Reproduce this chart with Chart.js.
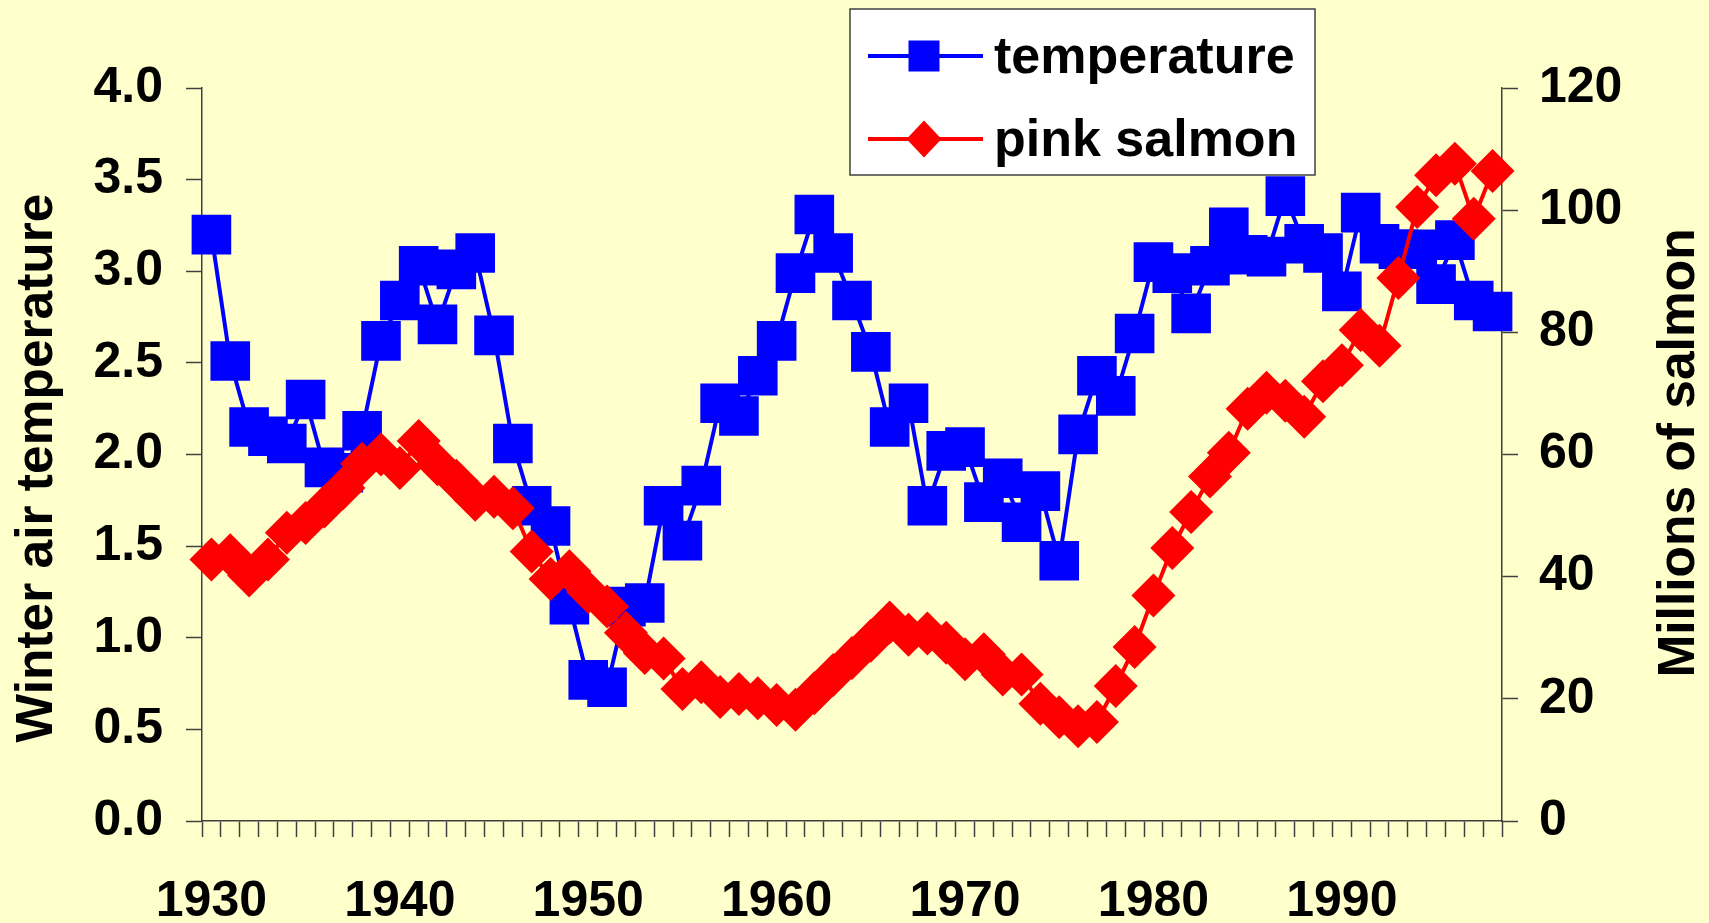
<!DOCTYPE html>
<html>
<head>
<meta charset="utf-8">
<title>Winter air temperature and pink salmon</title>
<script src="https://cdn.jsdelivr.net/npm/chart.js@4.4.1/dist/chart.umd.min.js"></script>
<style>
  html, body { margin: 0; padding: 0; background: #FFFFCC; overflow: hidden; }
  canvas { display: block; }
</style>
</head>
<body>
<canvas id="chart" width="1709" height="923"></canvas>
<script>
// Catch years, one category each
const years = [
  1930, 1931, 1932, 1933, 1934, 1935, 1936, 1937, 1938, 1939,
  1940, 1941, 1942, 1943, 1944, 1945, 1946, 1947, 1948, 1949,
  1950, 1951, 1952, 1953, 1954, 1955, 1956, 1957, 1958, 1959,
  1960, 1961, 1962, 1963, 1964, 1965, 1966, 1967, 1968, 1969,
  1970, 1971, 1972, 1973, 1974, 1975, 1976, 1977, 1978, 1979,
  1980, 1981, 1982, 1983, 1984, 1985, 1986, 1987, 1988, 1989,
  1990, 1991, 1992, 1993, 1994, 1995, 1996, 1997, 1998
];

// Winter air temperature (left axis)
const temperature = [
  3.20, 2.51, 2.15, 2.10, 2.06, 2.30, 1.93, 1.90, 2.13, 2.62,
  2.84, 3.03, 2.71, 3.01, 3.10, 2.65, 2.06, 1.72, 1.61, 1.18,
  0.77, 0.73, 1.17, 1.19, 1.72, 1.53, 1.83, 2.28, 2.21, 2.43,
  2.62, 2.99, 3.31, 3.10, 2.84, 2.56, 2.15, 2.28, 1.72, 2.02,
  2.04, 1.74, 1.87, 1.63, 1.80, 1.42, 2.11, 2.43, 2.32, 2.66,
  3.05, 2.99, 2.77, 3.03, 3.24, 3.09, 3.08, 3.41, 3.15, 3.10,
  2.89, 3.32, 3.15, 3.12, 3.12, 2.93, 3.17, 2.84, 2.78
];

// Pink salmon catch, millions of fish (right axis)
const pinkSalmon = [
  42.8, 43.5, 40.2, 42.8, 47.2, 48.8, 51.5, 54.5, 58.5, 60.0,
  57.8, 62.2, 58.4, 55.7, 52.6, 53.1, 51.2, 44.1, 39.6, 40.9,
  37.5, 35.1, 30.8, 27.5, 26.6, 21.6, 22.7, 20.3, 20.8, 20.1,
  19.0, 18.2, 20.9, 23.9, 26.7, 29.5, 32.5, 30.5, 30.7, 29.2,
  26.5, 27.3, 24.0, 24.0, 19.2, 17.0, 15.5, 16.2, 22.1, 28.5,
  36.9, 44.7, 50.6, 56.4, 60.3, 67.5, 70.1, 68.8, 66.2, 72.0,
  74.6, 80.4, 77.8, 88.9, 100.5, 105.7, 107.6, 98.6, 106.4
];

// Years that carry a label on the category axis
const xTickLabels = ['1930', '1940', '1950', '1960', '1970', '1980', '1990'];

const FONT = "'Liberation Sans', Arial, Helvetica, sans-serif";
Chart.defaults.font.family = FONT;
Chart.defaults.font.weight = 'bold';
Chart.defaults.color = '#000000';

const AXIS_GREY = '#404040';

// Pale yellow page behind everything
const paper = {
  id: 'paper',
  beforeDraw(chart) {
    const { ctx, width, height } = chart;
    ctx.save();
    ctx.fillStyle = '#FFFFCC';
    ctx.fillRect(0, 0, width, height);
    ctx.restore();
  }
};

// Vertical axis titles, both reading bottom-to-top
const axisTitles = {
  id: 'axisTitles',
  afterDraw(chart, args, opts) {
    const ctx = chart.ctx;
    ctx.save();
    ctx.fillStyle = '#000';
    ctx.font = `bold ${opts.size}px ${FONT}`;
    ctx.textAlign = 'center';
    ctx.textBaseline = 'alphabetic';
    opts.items.forEach(t => {
      ctx.save();
      ctx.translate(t.x, t.y);
      ctx.rotate(-Math.PI / 2);
      ctx.fillText(t.text, 0, 0);
      ctx.restore();
    });
    ctx.restore();
  }
};

// Framed legend drawn from the dataset styles
const boxLegend = {
  id: 'boxLegend',
  afterDraw(chart, args, o) {
    const ctx = chart.ctx;
    ctx.save();
    ctx.fillStyle = '#FFFFFF';
    ctx.fillRect(o.x, o.y, o.w, o.h);
    ctx.strokeStyle = AXIS_GREY;
    ctx.lineWidth = 1.5;
    ctx.strokeRect(o.x, o.y, o.w, o.h);

    chart.data.datasets.forEach((ds, i) => {
      const cy = o.rows[i];
      ctx.strokeStyle = ds.borderColor;
      ctx.lineWidth = ds.borderWidth;
      ctx.beginPath();
      ctx.moveTo(o.lineFrom, cy);
      ctx.lineTo(o.lineTo, cy);
      ctx.stroke();

      ctx.fillStyle = ds.pointBackgroundColor;
      const mx = o.markerX;
      if (ds.pointStyle === 'rectRot') {
        const hw = o.diamond / 2, hh = o.diamond / 2 + 1;
        ctx.beginPath();
        ctx.moveTo(mx, cy - hh);
        ctx.lineTo(mx + hw, cy);
        ctx.lineTo(mx, cy + hh);
        ctx.lineTo(mx - hw, cy);
        ctx.closePath();
        ctx.fill();
      } else {
        const s = o.square;
        ctx.fillRect(mx - s / 2, cy - s / 2, s, s);
      }

      ctx.fillStyle = '#000';
      ctx.font = `bold ${o.fontSize}px ${FONT}`;
      ctx.textAlign = 'left';
      ctx.textBaseline = 'alphabetic';
      ctx.fillText(ds.label, o.textX, cy + o.baselineOffset);
    });
    ctx.restore();
  }
};

const tickFont = { size: 50, weight: 'bold', family: FONT };

new Chart(document.getElementById('chart'), {
  type: 'line',
  data: {
    labels: years.map(String),
    datasets: [
      {
        label: 'temperature',
        data: temperature,
        yAxisID: 'yTemp',
        borderColor: '#0000FF',
        backgroundColor: '#0000FF',
        borderWidth: 4,
        tension: 0,
        pointStyle: 'rect',
        pointRadius: 28,
        pointBackgroundColor: '#0000FF',
        pointBorderWidth: 0,
        clip: false,
        order: 2
      },
      {
        label: 'pink salmon',
        data: pinkSalmon,
        yAxisID: 'ySalmon',
        borderColor: '#FF0000',
        backgroundColor: '#FF0000',
        borderWidth: 4,
        tension: 0,
        pointStyle: 'rectRot',
        pointRadius: 22,
        pointBackgroundColor: '#FF0000',
        pointBorderWidth: 0,
        clip: false,
        order: 1
      }
    ]
  },
  options: {
    responsive: false,
    animation: false,
    devicePixelRatio: 1,
    events: [],
    layout: { padding: { top: 88, left: 0, right: 0, bottom: 0 } },
    plugins: {
      legend: { display: false },
      tooltip: { enabled: false },
      boxLegend: {
        x: 850, y: 9, w: 465, h: 166,
        rows: [56, 139],
        lineFrom: 868, lineTo: 983,
        markerX: 924, square: 31, diamond: 35,
        textX: 994, baselineOffset: 17, fontSize: 52
      },
      axisTitles: {
        size: 51.5,
        items: [
          { text: 'Winter air temperature', x: 52, y: 468 },
          { text: 'Millions of salmon', x: 1694, y: 453 }
        ]
      }
    },
    scales: {
      x: {
        type: 'category',
        offset: true,
        grid: {
          display: true,
          offset: true,
          drawOnChartArea: false,
          drawTicks: true,
          tickLength: 16,
          tickColor: AXIS_GREY,
          tickWidth: 1.5
        },
        border: { display: true, color: AXIS_GREY, width: 1.5 },
        ticks: {
          autoSkip: false,
          maxRotation: 0,
          minRotation: 0,
          padding: 35,
          color: '#000',
          font: tickFont,
          callback(value, index) {
            const lbl = String(years[index]);
            return xTickLabels.includes(lbl) ? lbl : '';
          }
        },
        afterFit(scale) { scale.height = 102; }
      },
      yTemp: {
        type: 'linear',
        position: 'left',
        min: 0,
        max: 4,
        grid: {
          drawOnChartArea: false,
          drawTicks: true,
          tickLength: 16,
          tickColor: AXIS_GREY,
          tickWidth: 1.5
        },
        border: { display: true, color: AXIS_GREY, width: 1.5 },
        ticks: {
          stepSize: 0.5,
          padding: 23,
          color: '#000',
          font: tickFont,
          callback: v => Number(v).toFixed(1)
        },
        afterFit(scale) { scale.width = 202; }
      },
      ySalmon: {
        type: 'linear',
        position: 'right',
        min: 0,
        max: 120,
        grid: {
          drawOnChartArea: false,
          drawTicks: true,
          tickLength: 16,
          tickColor: AXIS_GREY,
          tickWidth: 1.5
        },
        border: { display: true, color: AXIS_GREY, width: 1.5 },
        ticks: {
          stepSize: 20,
          padding: 21,
          color: '#000',
          font: tickFont
        },
        afterFit(scale) { scale.width = 207; }
      }
    }
  },
  plugins: [paper, boxLegend, axisTitles]
});
</script>
</body>
</html>
